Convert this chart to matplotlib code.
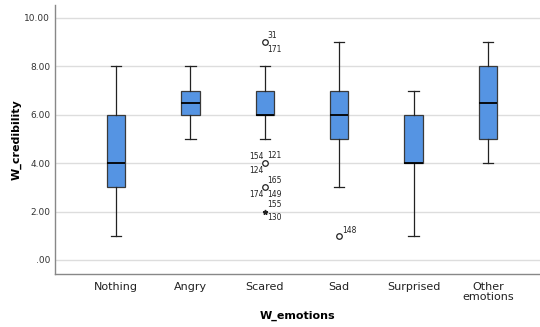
import numpy as np
import matplotlib.pyplot as plt

categories = ['Nothing', 'Angry', 'Scared', 'Sad', 'Surprised', 'Other\nemotions']
whislo = [1, 5, 5, 3, 1, 4]
q1 = [3, 6, 6, 5, 4, 5]
med = [4, 6.5, 6, 6, 4, 6.5]
q3 = [6, 7, 7, 7, 6, 8]
whishi = [8, 8, 8, 9, 7, 9]

# outliers: (category index, value, marker, labels as (text, dx, dy, ha))
outliers = [
    (2, 9, 'o', [('31', 2, 5, 'left'), ('171', 2, -5, 'left')]),
    (2, 4, 'o', [('154', -1, 5, 'right'), ('121', 2, 5.5, 'left'), ('124', -1, -5, 'right')]),
    (2, 3, 'o', [('165', 2, 5, 'left'), ('174', -1, -5, 'right'), ('149', 2, -5, 'left')]),
    (2, 2, '*', [('155', 2, 5, 'left'), ('130', 2, -4.5, 'left')]),
    (3, 1, 'o', [('148', 2, 4, 'left')]),
]

fig = plt.figure(figsize=(5.4, 3.27), dpi=100)
ax = fig.add_axes([0.102, 0.162, 0.898, 0.823])

stats = []
for i in range(len(categories)):
    stats.append({'whislo': whislo[i], 'q1': q1[i], 'med': med[i], 'q3': q3[i],
                  'whishi': whishi[i], 'fliers': []})

pos = np.arange(1, len(categories) + 1)
ax.bxp(stats, positions=pos, widths=0.25, patch_artist=True, showfliers=False,
       boxprops=dict(facecolor='#5594e3', edgecolor='#3a3a3a', linewidth=0.9),
       medianprops=dict(color='black', linewidth=1.3),
       whiskerprops=dict(color='#222222', linewidth=0.9),
       capprops=dict(color='#222222', linewidth=0.9), capwidths=0.14)

for idx, val, mk, labels in outliers:
    x = pos[idx]
    if mk == 'o':
        ax.plot(x, val, marker='o', ms=4, mfc='white', mec='#222222', mew=0.9, ls='none')
    else:
        ax.plot(x, val, marker='*', ms=3.5, color='#222222', ls='none')
    for txt, dx, dy, ha in labels:
        ax.annotate(txt, (x, val), xytext=(dx, dy), textcoords='offset points',
                    ha=ha, va='center', fontsize=5.5, color='#222222')

ax.set_xlim(0.18, 6.7)
ax.set_ylim(-0.58, 10.54)
ax.set_yticks([0, 2, 4, 6, 8, 10])
ax.set_yticklabels(['.00', '2.00', '4.00', '6.00', '8.00', '10.00'], fontsize=6.5, color='#333333')
ax.set_xticks(pos)
ax.set_xticklabels(categories, fontsize=8, color='#222222', linespacing=0.95)
ax.tick_params(axis='both', length=0)
ax.tick_params(axis='x', pad=6)
ax.grid(axis='y', color='#dddddd', linewidth=1)
ax.set_axisbelow(True)
for s in ['top', 'right']:
    ax.spines[s].set_visible(False)
for s in ['left', 'bottom']:
    ax.spines[s].set_color('#888888')
    ax.spines[s].set_linewidth(1)

ax.set_ylabel('W_credibility', fontsize=8, fontweight='bold', labelpad=2)
ax.set_xlabel('W_emotions', fontsize=8, fontweight='bold', labelpad=6)

fig.savefig('out.png', dpi=100)
